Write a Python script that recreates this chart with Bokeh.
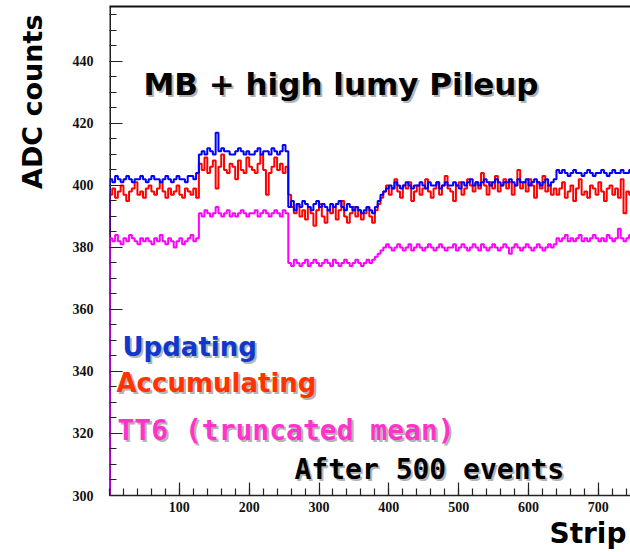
import math
from bokeh.plotting import figure
from bokeh.models import Label, FixedTicker, LinearAxis, Range1d, Title
from bokeh.embed import file_html
from bokeh.resources import INLINE

# ---- data: pedestal (ADC counts) per group of 4 strips ----
BIN = 4
y_ticks = [300, 320, 340, 360, 380, 400, 420, 440]
x_ticks = [100, 200, 300, 400, 500, 600, 700]

updating_s1 = [402, 401, 403, 402, 401, 402, 403, 402,
               401, 402, 402, 403, 402, 401, 402, 403,
               402, 402, 401, 402, 403, 402, 401, 402,
               403, 402, 402, 401, 403, 403, 402, 404]
updating_s2 = [410, 411, 410, 412, 411, 410, 417, 411,
               412, 411, 411, 410, 410, 411, 412, 411,
               410, 411, 410, 410, 411, 412, 410, 411,
               411, 410, 412, 411, 410, 411, 413, 411]
updating_s3 = [393, 395, 392, 394, 393, 395, 394, 393,
               392, 394, 395, 393, 394, 393, 392, 394,
               393, 394, 395, 393, 392, 394, 393, 392,
               393, 392, 391, 392, 393, 392, 391, 393]
updating_s4 = [395, 397, 398, 399, 400, 399, 401, 400,
               399, 400, 401, 400, 399, 400, 400, 401,
               400, 399, 401, 400, 400, 401, 399, 400,
               401, 400, 400, 401, 400, 399, 401, 400,
               401, 402, 400, 401, 400, 401, 402, 401,
               400, 401, 402, 401, 400, 401, 401, 402,
               401, 400, 402, 401, 401, 402, 400, 401,
               402, 401, 400, 401, 402, 400, 401, 402]
updating_s5 = [405, 404, 405, 404, 403, 404, 405, 404,
               404, 403, 404, 405, 404, 403, 404, 404,
               405, 404, 403, 404, 405, 404, 404, 405,
               404, 404, 405]

accum_s1 = [397, 399, 396, 398, 400, 397, 395, 398,
            399, 401, 397, 398, 396, 399, 400, 398,
            397, 399, 401, 398, 396, 399, 397, 398,
            400, 397, 396, 399, 398, 397, 399, 396]
accum_s2 = [407, 405, 409, 404, 406, 408, 399, 406,
            410, 405, 404, 407, 406, 402, 408, 405,
            404, 409, 406, 405, 404, 407, 410, 405,
            397, 404, 406, 409, 405, 407, 404, 406]
accum_s3 = [397, 393, 391, 394, 390, 392, 389, 393,
            391, 387, 392, 394, 390, 388, 392, 391,
            393, 389, 392, 395, 390, 388, 391, 393,
            390, 392, 389, 391, 393, 390, 388, 392]
accum_s4 = [394, 396, 398, 400, 397, 399, 402, 398,
            396, 400, 399, 401, 395, 398, 400, 397,
            399, 402, 398, 396, 399, 401, 397, 400,
            403, 399, 398, 395, 400, 401, 397, 399,
            402, 400, 398, 401, 399, 404, 400, 397,
            401, 399, 403, 398, 400, 402, 399, 401,
            397, 400, 405, 399, 401, 398, 402, 400,
            396, 401, 399, 403, 398, 400, 397, 399]
accum_s5 = [397, 399, 401, 396, 398, 400, 395, 399,
            402, 397, 398, 396, 400, 399, 397, 401,
            398, 395, 399, 400, 397, 399, 396, 402,
            391, 398, 397]

tt6_s1 = [383, 382, 384, 382, 381, 383, 382, 384,
          383, 382, 381, 383, 382, 383, 382, 381,
          383, 382, 384, 382, 381, 383, 382, 380,
          382, 383, 381, 382, 383, 384, 382, 383]
tt6_s2 = [391, 390, 392, 391, 390, 391, 393, 391,
          390, 391, 392, 390, 391, 390, 391, 392,
          391, 390, 391, 391, 392, 390, 391, 392,
          391, 390, 391, 392, 391, 390, 392, 391]
tt6_s3 = [375, 374, 376, 375, 374, 375, 376, 374,
          375, 376, 375, 374, 375, 376, 375, 374,
          376, 375, 374, 375, 376, 375, 374, 375,
          376, 375, 374, 375, 376, 375, 376, 377]
tt6_s4 = [378, 379, 380, 381, 380, 379, 380, 381,
          380, 379, 380, 381, 379, 380, 381, 380,
          379, 380, 381, 380, 379, 380, 381, 380,
          379, 380, 380, 381, 379, 380, 381, 380,
          379, 380, 381, 380, 379, 381, 380, 379,
          380, 381, 380, 379, 380, 381, 380, 378,
          380, 381, 380, 379, 380, 381, 380, 379,
          380, 381, 380, 379, 380, 381, 380, 381]
tt6_s5 = [383, 382, 383, 384, 382, 383, 382, 383,
          384, 382, 383, 382, 383, 384, 383, 382,
          383, 382, 384, 383, 382, 383, 386, 383,
          382, 383, 384]

updating = updating_s1 + updating_s2 + updating_s3 + updating_s4 + updating_s5
accumulating = accum_s1 + accum_s2 + accum_s3 + accum_s4 + accum_s5
tt6 = tt6_s1 + tt6_s2 + tt6_s3 + tt6_s4 + tt6_s5

BASE = 300
XMAX = 746
YMAX = 457.7
W, H = 630, 552
L, R, T, B = 109, 0, 6, 57


def step_path(vals):
    xs, ys = [0], [BASE]
    for i, v in enumerate(vals):
        xs += [i * BIN, (i + 1) * BIN]
        ys += [v, v]
    return xs, ys


p = figure(width=W, height=H, x_range=Range1d(0, XMAX), y_range=Range1d(BASE, YMAX),
           output_backend="svg", toolbar_location=None,
           min_border_left=L, min_border_right=R, min_border_top=T, min_border_bottom=B)
p.xgrid.visible = False
p.ygrid.visible = False
p.outline_line_color = None
p.background_fill_color = "white"
p.border_fill_color = "white"

tick_font = "Liberation Serif"
for ax in (p.xaxis[0], p.yaxis[0]):
    ax.major_tick_in = 13
    ax.major_tick_out = 0
    ax.minor_tick_in = 7
    ax.minor_tick_out = 0
    ax.axis_line_width = 1.5
    ax.axis_line_color = "#222222"
    ax.major_tick_line_color = "#222222"
    ax.minor_tick_line_color = "#222222"
    ax.major_tick_line_width = 1.2
    ax.minor_tick_line_width = 1.2
    ax.major_label_text_font = tick_font
    ax.major_label_text_font_style = "bold"
    ax.major_label_text_font_size = "14px"
    ax.major_label_text_color = "#111111"

p.xaxis[0].ticker = FixedTicker(ticks=x_ticks, minor_ticks=list(range(0, 760, 20)))
p.xaxis[0].major_label_standoff = 6
p.yaxis[0].ticker = FixedTicker(ticks=y_ticks, minor_ticks=list(range(300, 460, 5)))
p.yaxis[0].major_label_standoff = 16
p.yaxis[0].axis_line_color = None  # drawn below the histograms instead
# blank axis label: only reserves room so that the title sits further left
p.yaxis[0].axis_label = "\u00a0"
p.yaxis[0].axis_label_text_font_size = "12px"
p.yaxis[0].axis_label_standoff = 5

top = LinearAxis(ticker=FixedTicker(ticks=[]), major_tick_in=0, major_tick_out=0,
                 minor_tick_in=0, minor_tick_out=0, axis_line_width=2,
                 axis_line_color="#111111", major_label_text_font_size="0px")
p.add_layout(top, "above")

p.add_layout(Title(text="Strip", align="right", offset=4, standoff=0,
                   text_font="DejaVu Sans", text_font_style="bold",
                   text_font_size="28px", text_color="#000000"), "below")
p.add_layout(Title(text="ADC counts", align="right", offset=8, standoff=0,
                   text_font="DejaVu Sans", text_font_style="bold",
                   text_font_size="27px", text_color="#000000"), "left")

# left frame line, under the histograms
p.segment(x0=[0], y0=[BASE], x1=[0], y1=[YMAX], line_color="#222222", line_width=3)

for vals, col in ((accumulating, "#ff0000"), (updating, "#0000ff"), (tt6, "#ff00ff")):
    xs, ys = step_path(vals)
    p.line(xs, ys, line_color=col, line_width=2)


def dx(px):
    return (px - L) * XMAX / (W - L - R)


def dy(py):
    return BASE + (H - B - py) * (YMAX - BASE) / (H - T - B)


SHIFT = 12
texts = [
    ("MB + high lumy Pileup", 143, 95, "DejaVu Sans", "31px", "#000000"),
    ("Updating", 122, 358, "DejaVu Sans", "26px", "#1038cc"),
    ("Accumulating", 116, 394, "DejaVu Sans", "26px", "#ff3300"),
    ("TT6 (truncated mean)", 117, 442, "DejaVu Sans Mono", "28px", "#ff33cc"),
    ("After 500 events", 294, 481, "DejaVu Sans Mono", "28px", "#000000"),
]
for txt, px, py, fnt, size, col in texts:
    for off, c in ((2, "#b4b4b4"), (0, col)):
        p.add_layout(Label(x=dx(px), y=dy(py - SHIFT), text=txt, text_font=fnt,
                           text_font_style="bold", text_font_size=size, text_color=c,
                           text_align="left", text_baseline="alphabetic",
                           x_offset=off, y_offset=-off))

open("out.html", "w").write(file_html(p, INLINE))
